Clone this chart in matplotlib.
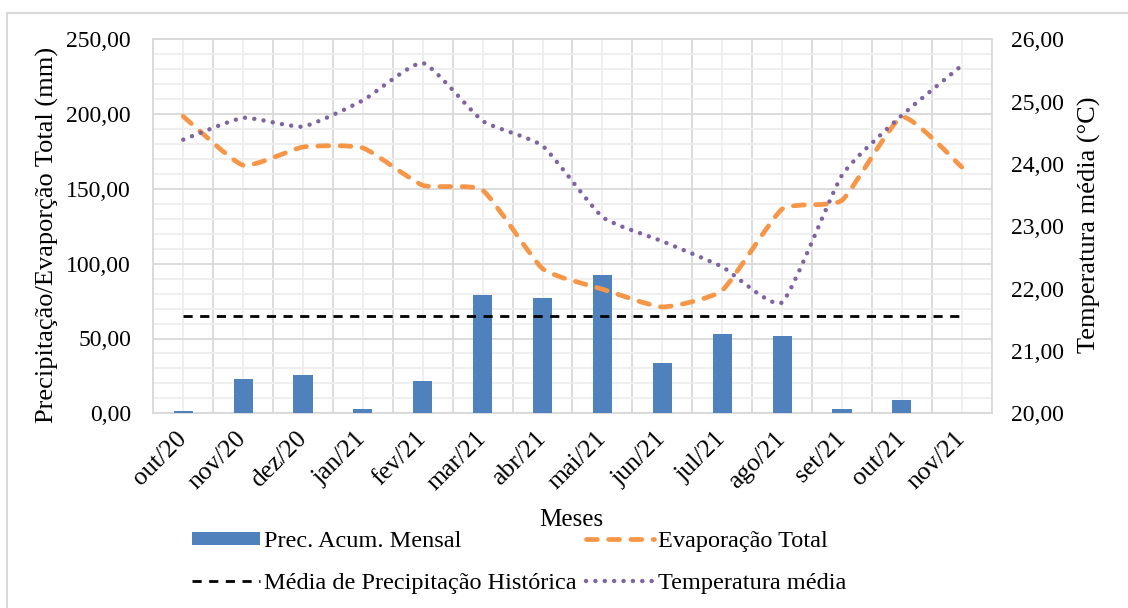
import numpy as np
import matplotlib
matplotlib.use('Agg')
import matplotlib.pyplot as plt
from matplotlib.path import Path
from matplotlib.patches import PathPatch, Patch, Rectangle
from matplotlib.lines import Line2D
from matplotlib.ticker import MultipleLocator, FuncFormatter

plt.rcParams['font.family'] = ['Liberation Serif', 'DejaVu Serif']

meses = ['out/20', 'nov/20', 'dez/20', 'jan/21', 'fev/21', 'mar/21', 'abr/21',
         'mai/21', 'jun/21', 'jul/21', 'ago/21', 'set/21', 'out/21', 'nov/21']
precipitacao = [1.5, 23.2, 25.4, 2.7, 21.4, 78.9, 76.9, 92.2, 33.9, 53.3, 51.5, 2.7, 8.7, 0.0]
evaporacao = [198.5, 165.8, 178.0, 177.4, 152.4, 149.1, 96.7, 83.0, 71.1, 82.2, 136.5, 142.4, 198.0, 164.6]
temperatura = [24.39, 24.74, 24.60, 25.02, 25.62, 24.69, 24.29, 23.15, 22.76, 22.35, 21.78, 23.82, 24.78, 25.58]
media_historica = [64.8] * 14

AZUL = '#4f81bd'
LARANJA = '#f79646'
ROXO = '#8064a2'
TRACO_EVAP = (0, (2.3, 2.4))
TRACO_TEMP = (0, (0.01, 2.1))
TRACO_MEDIA = (0, (3.3, 2.7))


def curva_suave(x, y, k=1 / 12):
    # bezier por trechos (estilo "linha suavizada" do Excel)
    pts = np.column_stack([np.asarray(x, float), np.asarray(y, float)])
    ext = np.vstack([pts[0], pts, pts[-1]])
    verts = [pts[0]]
    codes = [Path.MOVETO]
    for i in range(len(pts) - 1):
        p0, p1, p2, p3 = ext[i], ext[i + 1], ext[i + 2], ext[i + 3]
        verts += [p1 + (p2 - p0) * k, p2 - (p3 - p1) * k, p2]
        codes += [Path.CURVE4] * 3
    return Path(verts, codes)


def virgula(v, pos):
    return f'{v:.2f}'.replace('.', ',')


x = np.arange(len(meses))
W, H = 1128, 608

fig = plt.figure(figsize=(W / 100, H / 100), dpi=100)
fig.patches.append(Rectangle((7 / W, -0.05), 1.1, 1 - 13 / H + 0.05,
                             transform=fig.transFigure, fill=False,
                             edgecolor='#d9d9d9', lw=1.5))

ax = fig.add_axes([153.3 / W, 1 - 413.3 / H, 838.4 / W, 374 / H])
ax.set_axisbelow(True)

ax.bar(x, precipitacao, width=0.32, color=AZUL, zorder=3)
ax.plot(x, media_historica, color='black', lw=2, ls=TRACO_MEDIA, zorder=4)

evap = PathPatch(curva_suave(x, evaporacao), fill=False, edgecolor=LARANJA,
                 lw=3.4, ls=TRACO_EVAP, capstyle='round', zorder=5)
ax.add_patch(evap)

ax.set_xlim(-0.5, len(meses) - 0.5)
ax.set_ylim(0, 250)
ax.yaxis.set_major_locator(MultipleLocator(50))
ax.yaxis.set_minor_locator(MultipleLocator(10))
ax.yaxis.set_major_formatter(FuncFormatter(virgula))
ax.set_xticks(x)
ax.set_xticklabels(meses, rotation=45, ha='right', va='center',
                   rotation_mode='anchor', fontsize=18.5)
ax.set_xticks(np.arange(-0.5, len(meses), 1), minor=True)

ax.grid(which='major', axis='y', color='#d9d9d9', lw=1.3)
ax.grid(which='minor', axis='y', color='#eeeeee', lw=1.3)
ax.grid(which='minor', axis='x', color='#d9d9d9', lw=1.3)
ax.grid(which='major', axis='x', color='#eeeeee', lw=1.3)
ax.tick_params(which='both', length=0)
ax.tick_params(axis='y', labelsize=17, pad=16)
ax.tick_params(axis='x', pad=16)
for s in ax.spines.values():
    s.set_color('#d9d9d9')
    s.set_linewidth(1.3)

ax.set_ylabel('Precipitação/Evaporção Total (mm)', fontsize=19)
ax.yaxis.set_label_coords(59 / W, 1 - 235 / H, transform=fig.transFigure)

ax2 = ax.twinx()
temp = PathPatch(curva_suave(x, temperatura), fill=False, edgecolor=ROXO,
                 lw=3.2, ls=TRACO_TEMP, capstyle='round', zorder=5)
ax2.add_patch(temp)
ax2.set_ylim(20, 26)
ax2.yaxis.set_major_locator(MultipleLocator(1))
ax2.yaxis.set_major_formatter(FuncFormatter(virgula))
ax2.tick_params(which='both', length=0, labelsize=17, pad=14)
for s in ax2.spines.values():
    s.set_visible(False)
ax2.set_ylabel('Temperatura média (°C)', fontsize=19)
ax2.yaxis.set_label_coords(1078 / W, 1 - 225 / H, transform=fig.transFigure)

fig.text(571 / W, 1 - 520 / H, 'Meses', fontsize=18, ha='center', va='center')

handles = [
    Patch(facecolor=AZUL, edgecolor='none'),
    Line2D([], [], color='black', lw=2, ls=TRACO_MEDIA),
    Line2D([], [], color=LARANJA, lw=3.4, ls=TRACO_EVAP, dash_capstyle='round'),
    Line2D([], [], color=ROXO, lw=3.2, ls=TRACO_TEMP, dash_capstyle='round'),
]
labels = ['Prec. Acum. Mensal', 'Média de Precipitação Histórica',
          'Evaporação Total', 'Temperatura média']
fig.legend(handles, labels, ncol=2, loc='upper left', bbox_to_anchor=(192 / W, 1 - 531 / H),
           frameon=False, fontsize=17.5, borderpad=0, borderaxespad=0,
           handlelength=2.8, handleheight=0.45, handletextpad=0.15,
           columnspacing=0.4, labelspacing=0.85)

fig.savefig('out.png', dpi=100)
